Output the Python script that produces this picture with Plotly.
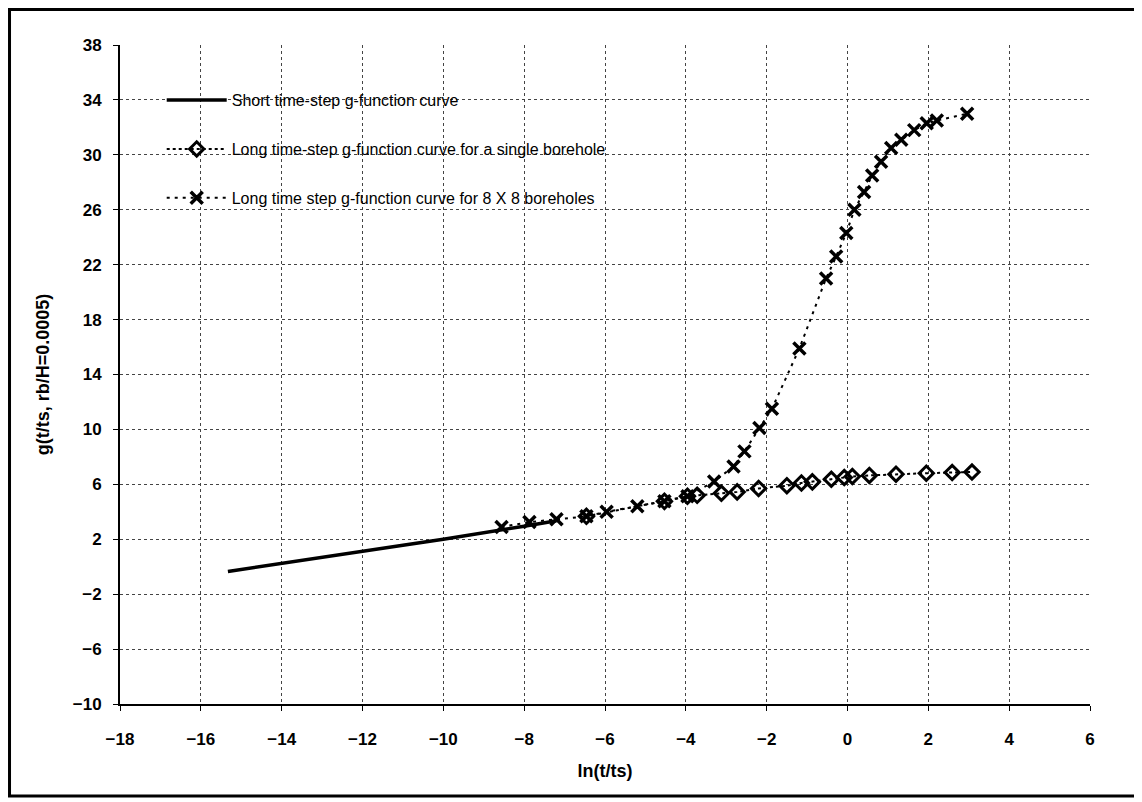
import plotly.graph_objects as go

# Short time-step g-function curve
short_x = [-15.33, -14.0, -13.0, -12.0, -11.0, -10.0, -9.0, -8.0, -7.2]
short_y = [-0.35, 0.22, 0.68, 1.12, 1.56, 2.0, 2.45, 2.95, 3.35]

# Long time-step g-function, single borehole
single_x = [-6.46, -4.53, -3.96, -3.72, -3.12, -2.73, -2.2, -1.5, -1.14, -0.87,
            -0.40, -0.08, 0.12, 0.54, 1.2, 1.95, 2.59, 3.08]
single_y = [3.67, 4.76, 5.13, 5.2, 5.35, 5.45, 5.7, 5.9, 6.1, 6.18,
            6.37, 6.5, 6.57, 6.65, 6.74, 6.81, 6.86, 6.9]

# Long time-step g-function, 8 x 8 boreholes
field_x = [-8.56, -7.87, -7.2, -6.46, -5.96, -5.2, -4.53, -3.96, -3.3, -2.82,
           -2.55, -2.18, -1.87, -1.19, -0.53, -0.28, -0.03, 0.17, 0.41, 0.61,
           0.83, 1.08, 1.33, 1.65, 1.96, 2.21, 2.96]
field_y = [2.9, 3.25, 3.45, 3.67, 4.0, 4.4, 4.76, 5.13, 6.2, 7.3,
           8.4, 10.1, 11.5, 15.9, 21.0, 22.6, 24.3, 26.0, 27.3, 28.5,
           29.5, 30.5, 31.1, 31.8, 32.3, 32.5, 33.0]

names = [
    "Short time-step g-function curve",
    "Long time-step g-function curve for a single borehole",
    "Long time step g-function curve for 8 X 8 boreholes",
]

FONT = "Liberation Sans, Arial, sans-serif"

fig = go.Figure()
fig.add_trace(go.Scatter(x=short_x, y=short_y, mode="lines", name=names[0],
                         legendgroup="a",
                         line=dict(color="black", width=3.5)))
fig.add_trace(go.Scatter(x=single_x, y=single_y, mode="lines+markers", name=names[1],
                         legendgroup="b",
                         line=dict(color="black", width=2, dash="dot"),
                         marker=dict(symbol="diamond-open", size=11, color="black",
                                     line=dict(width=3, color="black"))))
fig.add_trace(go.Scatter(x=field_x, y=field_y, mode="lines+markers", name=names[2],
                         legendgroup="c",
                         line=dict(color="black", width=2, dash="3px,5px"),
                         marker=dict(symbol="x-thin-open", size=12, color="black",
                                     line=dict(width=3.5, color="black"))))

fig.update_layout(
    width=1134, height=794,
    margin=dict(l=112, r=52, t=37, b=98),
    paper_bgcolor="white", plot_bgcolor="white",
    font=dict(family=FONT, color="black", size=15),
    showlegend=True,
    legend=dict(x=0.043, y=0.942, xanchor="left", yanchor="top",
                bgcolor="rgba(255,255,255,0)", borderwidth=0,
                font=dict(family=FONT, size=16, color="black"),
                traceorder="grouped", tracegroupgap=25, itemwidth=60),
    xaxis=dict(range=[-18, 6], dtick=2, tick0=-18,
               showline=True, linecolor="black", linewidth=2,
               ticks="outside", ticklen=5, tickcolor="black",
               ticklabelstandoff=14,
               showgrid=True, gridcolor="#444444", griddash="dot", gridwidth=1,
               zeroline=False,
               tickfont=dict(family=FONT, size=17, color="black", weight="bold"),
               title=dict(text="ln(t/ts)", standoff=16,
                          font=dict(family=FONT, size=18, color="black", weight="bold"))),
    yaxis=dict(range=[-10, 38], dtick=4, tick0=-10,
               showline=True, linecolor="black", linewidth=2,
               ticks="outside", ticklen=5, tickcolor="black",
               ticklabelstandoff=8,
               showgrid=True, gridcolor="#444444", griddash="dot", gridwidth=1,
               zeroline=False,
               tickfont=dict(family=FONT, size=17, color="black", weight="bold"),
               title=dict(text="g(t/ts, rb/H=0.0005)", standoff=18,
                          font=dict(family=FONT, size=18, color="black", weight="bold"))),
    shapes=[dict(type="rect", xref="paper", yref="paper",
                 x0=-0.1139, x1=1.0495, y0=-0.1396, y1=1.0539,
                 line=dict(color="black", width=3), layer="below")],
)

fig.write_html("out.html")
